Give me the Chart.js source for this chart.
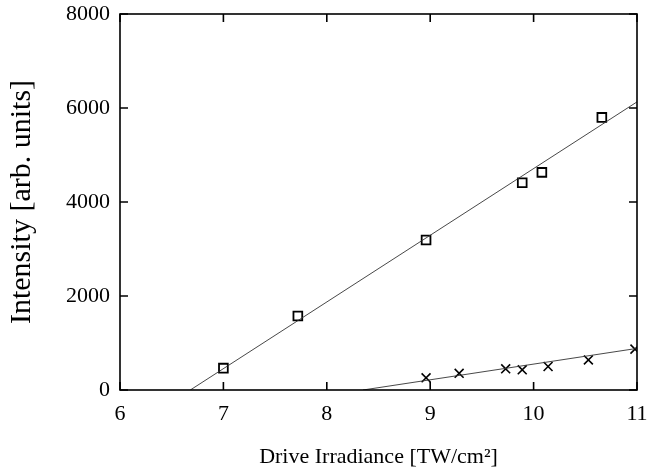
<!DOCTYPE html>
<html>
<head>
<meta charset="utf-8">
<script src="https://cdn.jsdelivr.net/npm/chart.js@4"></script>
<style>
  html, body { margin: 0; padding: 0; background: #fff; }
  #wrap { width: 651px; height: 470px; }
</style>
</head>
<body>
<div id="wrap"><canvas id="myChart" width="651" height="470"></canvas></div>
<script>
// measured points (squares and crosses)
const squareIrr = [7.00, 7.72, 8.96, 9.89, 10.08, 10.66];
const squareInt = [465, 1575, 3190, 4410, 4630, 5800];
const crossIrr = [8.96, 9.28, 9.73, 9.89, 10.14, 10.53, 10.98];
const crossInt = [260, 355, 450, 430, 500, 640, 870];

// linear fit lines (end points)
const squareFitIrr = [6.68, 11];
const squareFitInt = [0, 6130];
const crossFitIrr = [8.35, 11];
const crossFitInt = [0, 885];

const xTicks = [6, 7, 8, 9, 10, 11];
const yTicks = [0, 2000, 4000, 6000, 8000];

function toPoints(xs, ys) {
    return xs.map((x, i) => ({ x: x, y: ys[i] }));
}

const serif = "'Liberation Serif', 'Times New Roman', serif";

// frame plus inward tick marks on all four sides
const framePlugin = {
    id: "frame",
    afterDatasetsDraw(chart) {
        const ctx = chart.ctx;
        const a = chart.chartArea;
        const xs = chart.scales.x;
        const ys = chart.scales.y;
        const len = 8;
        ctx.save();
        ctx.strokeStyle = "#000";
        ctx.lineWidth = 1.6;
        ctx.strokeRect(a.left, a.top, a.right - a.left, a.bottom - a.top);
        ctx.beginPath();
        xs.ticks.forEach(t => {
            const px = xs.getPixelForValue(t.value);
            ctx.moveTo(px, a.bottom);
            ctx.lineTo(px, a.bottom - len);
            ctx.moveTo(px, a.top);
            ctx.lineTo(px, a.top + len);
        });
        ys.ticks.forEach(t => {
            const py = ys.getPixelForValue(t.value);
            ctx.moveTo(a.left, py);
            ctx.lineTo(a.left + len, py);
            ctx.moveTo(a.right, py);
            ctx.lineTo(a.right - len, py);
        });
        ctx.stroke();
        ctx.restore();
    }
};

new Chart(document.getElementById("myChart"), {
    type: "scatter",
    data: {
        datasets: [
            {
                data: toPoints(squareFitIrr, squareFitInt),
                showLine: true,
                borderColor: "#333",
                borderWidth: 0.9,
                pointRadius: 0
            },
            {
                data: toPoints(crossFitIrr, crossFitInt),
                showLine: true,
                borderColor: "#333",
                borderWidth: 0.9,
                pointRadius: 0
            },
            {
                data: toPoints(squareIrr, squareInt),
                pointStyle: "rect",
                pointRadius: 6.2,
                pointBorderWidth: 1.8,
                pointBorderColor: "#000",
                pointBackgroundColor: "rgba(255,255,255,0)"
            },
            {
                data: toPoints(crossIrr, crossInt),
                pointStyle: "crossRot",
                pointRadius: 6.3,
                pointBorderWidth: 1.6,
                pointBorderColor: "#000"
            }
        ]
    },
    options: {
        responsive: false,
        animation: false,
        layout: { padding: { top: 14, right: 14, left: 0, bottom: 0 } },
        plugins: {
            legend: { display: false },
            tooltip: { enabled: false }
        },
        scales: {
            x: {
                type: "linear",
                min: 6,
                max: 11,
                afterFit(s) {
                    s.height = 80;
                    s.paddingLeft = 0;
                    s.paddingRight = 0;
                },
                afterBuildTicks(s) { s.ticks = xTicks.map(v => ({ value: v })); },
                grid: { display: false, drawTicks: false },
                border: { display: false },
                ticks: {
                    padding: 11,
                    color: "#000",
                    font: { family: serif, size: 22 },
                    maxRotation: 0
                },
                title: {
                    display: true,
                    text: "Drive Irradiance [TW/cm²]",
                    color: "#000",
                    font: { family: serif, size: 22 },
                    padding: { top: 0, bottom: 0 }
                }
            },
            y: {
                min: 0,
                max: 8000,
                afterFit(s) {
                    s.width = 120;
                    s.paddingTop = 0;
                    s.paddingBottom = 0;
                },
                afterBuildTicks(s) { s.ticks = yTicks.map(v => ({ value: v })); },
                grid: { display: false, drawTicks: false },
                border: { display: false },
                ticks: {
                    padding: 10,
                    color: "#000",
                    font: { family: serif, size: 22 },
                    callback: v => String(v)
                },
                title: {
                    display: true,
                    text: "Intensity [arb. units]",
                    color: "#000",
                    font: { family: serif, size: 30 },
                    padding: { top: 4, bottom: 0 }
                }
            }
        }
    },
    plugins: [framePlugin]
});
</script>
</body>
</html>
